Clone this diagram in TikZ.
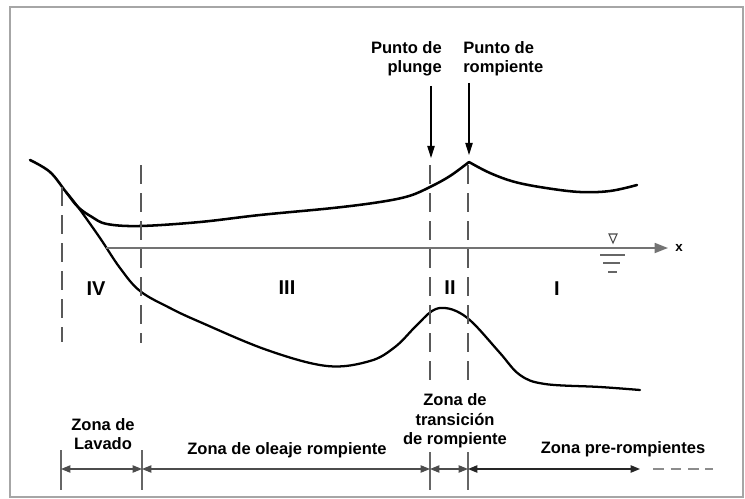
\documentclass[tikz,border=0pt]{standalone}
\usepackage{fontspec}
\setmainfont{Liberation Sans}
\usetikzlibrary{arrows.meta}

\begin{document}
\begin{tikzpicture}[
  x=0.75pt, y=-0.75pt,
  profile/.style={line width=1.9pt, line join=round, line cap=round},
  guide/.style={draw=black!65, line width=1pt, dash pattern=on 14pt off 7pt},
  label/.style={font=\bfseries\fontsize{12.4}{14.5}\selectfont, inner sep=0pt},
  zone/.style={font=\bfseries\fontsize{15}{18}\selectfont, inner sep=0pt},
  dim/.style={draw=black!70, line width=0.8pt,
    {Triangle[length=7pt,width=5.5pt]}-{Triangle[length=7pt,width=5.5pt]}},
  tick/.style={draw=black!60, line width=0.8pt},
  pointer/.style={line width=0.8pt, -{Triangle[length=9pt,width=5.5pt]}},
  axis/.style={draw=black!55, line width=1.3pt, -{Triangle[length=10pt,width=7.5pt]}}
]
\useasboundingbox (0,0) rectangle (745,499);
\draw[black!35, line width=1.5pt] (10,7) rectangle (743,497);

% free surface and bottom profile
\draw[profile] plot[smooth, tension=0.6] coordinates {(30,160) (50,172) (66,192) (78,207) (92,217)
  (107,224) (140,226) (200,222) (260,215) (333,208) (380,202) (409,196) (430,187) (450,176) (469,162)};
\draw[profile] plot[smooth, tension=0.6] coordinates {(469,162) (490,173) (515,182) (546,188)
  (580,192) (610,191) (637,185)};
\draw[profile, line width=1.7pt] plot[smooth, tension=0.6] coordinates {(66,192) (78,207) (100,238)
  (120,268) (140,291) (170,308) (200,322) (267,350) (327,366) (370,361) (395,347) (415,327)
  (432,311) (445,308) (460,313) (475,325) (500,353) (520,375) (545,384) (600,387) (640,390)};

% still water level
\coordinate (ax0) at (106,248);
\coordinate (ax1) at (668,248);
\draw[axis] (ax0) -- (ax1);
\node[font=\bfseries\fontsize{10}{12}\selectfont, inner sep=0pt] (xlab) at (679,248) {x};
\draw[black!70, line width=0.8pt] (609,234) -- (617,234) -- (613,243) -- cycle;
\draw[black!60, line width=1.2pt] (600,255) -- (625,255);
\draw[black!60, line width=1.2pt] (603,263) -- (620,263);
\draw[black!60, line width=1.2pt] (608,272) -- (617,272);

% zone limits
\coordinate (d1t) at (62,187);  \coordinate (d1b) at (62,342);
\coordinate (d2t) at (141,165); \coordinate (d2b) at (141,343);
\coordinate (d3t) at (430,165); \coordinate (d3b) at (430,382);
\coordinate (d4t) at (468,165); \coordinate (d4b) at (468,382);
\draw[guide] (d1t) -- (d1b);
\draw[guide] (d2t) -- (d2b);
\draw[guide] (d3t) -- (d3b);
\draw[guide] (d4t) -- (d4b);

\node[zone] (z4) at (96,289) {IV};
\node[zone] (z3) at (287,288) {III};
\node[zone] (z2) at (450,288) {II};
\node[zone] (z1) at (557,289) {I};

% plunge and breaking points
\node[label, align=right, anchor=east] (plunge) at (442,59) {Punto de\\plunge};
\node[label, align=left, anchor=west] (rompe) at (463,59) {Punto de\\rompiente};
\coordinate (p1) at (431,86);  \coordinate (p1e) at (431,158);
\coordinate (p2) at (469,83);  \coordinate (p2e) at (469,155);
\draw[pointer] (p1) -- (p1e);
\draw[pointer] (p2) -- (p2e);

% zone widths
\coordinate (t1) at (61,469);  \coordinate (t2) at (142,469);
\coordinate (t3) at (430,469); \coordinate (t4) at (468,469);
\coordinate (t5) at (640,469); \coordinate (t6) at (713,469);
\draw[tick] (61,450) -- (61,490);
\draw[tick] (142,450) -- (142,490);
\draw[tick] (430,452) -- (430,490);
\draw[tick] (468,452) -- (468,490);
\draw[dim] (t1) -- (t2);
\draw[dim] (t2) -- (t3);
\draw[dim] (t3) -- (t4);
\draw[dim, draw=black!85, line width=1pt] (t4) -- (t5);
\draw[black!45, line width=1.2pt, dash pattern=on 8pt off 5pt] ([xshift=10pt]t5) -- (t6);

\node[label, align=center] (lavado) at (103,434) {Zona de\\Lavado};
\node[label] (oleaje) at (287,450) {Zona de oleaje rompiente};
\node[label, align=center] (trans) at (455,421) {Zona de\\transición\\de rompiente};
\node[label] (pre) at (623,449) {Zona pre-rompientes};
\end{tikzpicture}
\end{document}
